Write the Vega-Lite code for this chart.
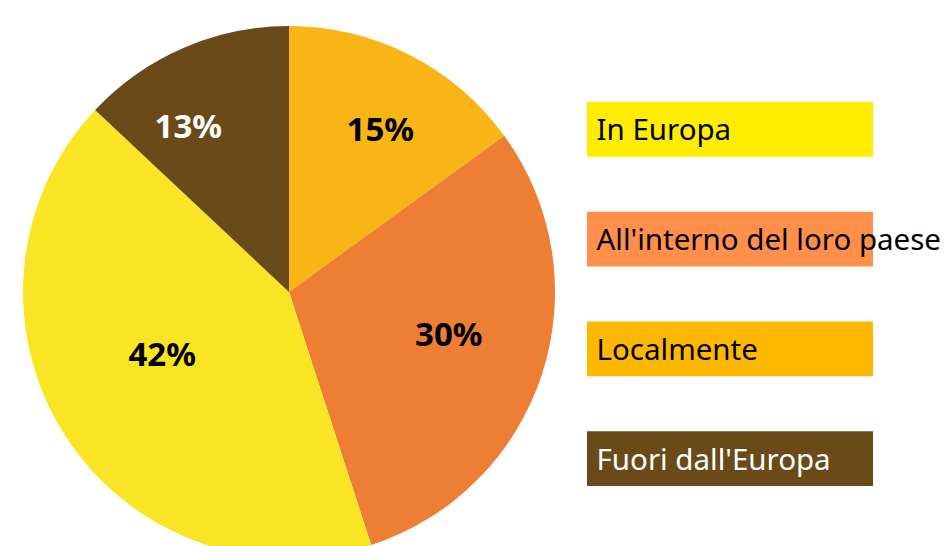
{
  "$schema": "https://vega.github.io/schema/vega-lite/v6.json",
  "padding": 0,
  "spacing": 9,
  "config": {"view": {"stroke": null}, "font": "Noto Sans"},
  "datasets": {
    "quote": [
      {"categoria": "Localmente", "quota": 0.15, "ordine": 1},
      {"categoria": "All'interno del loro paese", "quota": 0.30, "ordine": 2},
      {"categoria": "In Europa", "quota": 0.42, "ordine": 3},
      {"categoria": "Fuori dall'Europa", "quota": 0.13, "ordine": 4}
    ]
  },
  "resolve": {"scale": {"color": "independent"}},
  "hconcat": [
    {
      "width": 578,
      "height": 584,
      "data": {"name": "quote"},
      "encoding": {
        "theta": {"field": "quota", "type": "quantitative", "stack": true},
        "order": {"field": "ordine", "type": "quantitative"},
        "color": {
          "field": "categoria",
          "type": "nominal",
          "scale": {
            "domain": ["Localmente", "All'interno del loro paese", "In Europa", "Fuori dall'Europa"],
            "range": ["#F9B516", "#EE7E33", "#F9E526", "#6B4A1A"]
          },
          "legend": null
        }
      },
      "layer": [
        {"mark": {"type": "arc", "outerRadius": 266}},
        {
          "mark": {"type": "text", "radius": 188, "fontSize": 33, "fontWeight": "bold", "dx": 6, "dy": 7},
          "encoding": {
            "text": {"field": "quota", "type": "quantitative", "format": ".0%"},
            "color": {"value": "black"},
            "opacity": {"condition": {"test": "datum.categoria === \"Localmente\"", "value": 1}, "value": 0}
          }
        },
        {
          "mark": {"type": "text", "radius": 188, "fontSize": 33, "fontWeight": "bold", "dx": -26, "dy": 9},
          "encoding": {
            "text": {"field": "quota", "type": "quantitative", "format": ".0%"},
            "color": {"value": "white"},
            "opacity": {"condition": {"test": "datum.categoria === \"Fuori dall'Europa\"", "value": 1}, "value": 0}
          }
        },
        {
          "mark": {"type": "text", "radius": 166, "fontSize": 33, "fontWeight": "bold", "dx": 2, "dy": -7},
          "encoding": {
            "text": {"field": "quota", "type": "quantitative", "format": ".0%"},
            "color": {"value": "black"},
            "opacity": {"condition": {"test": "datum.categoria === \"All'interno del loro paese\"", "value": 1}, "value": 0}
          }
        },
        {
          "mark": {"type": "text", "radius": 143, "fontSize": 33, "fontWeight": "bold", "dx": -6, "dy": -13},
          "encoding": {
            "text": {"field": "quota", "type": "quantitative", "format": ".0%"},
            "color": {"value": "black"},
            "opacity": {"condition": {"test": "datum.categoria === \"In Europa\"", "value": 1}, "value": 0}
          }
        }
      ]
    },
    {
      "width": 286,
      "height": 588,
      "data": {"name": "quote"},
      "mark": {"type": "rect"},
      "encoding": {
        "y": {
          "field": "categoria",
          "type": "nominal",
          "sort": ["In Europa", "All'interno del loro paese", "Localmente", "Fuori dall'Europa"],
          "scale": {"paddingInner": 0.5, "paddingOuter": 0.93},
          "axis": {
            "title": null,
            "domain": false,
            "ticks": false,
            "labelAlign": "left",
            "labelPadding": -9,
            "labelFontSize": 29.5,
            "labelFont": "Noto Sans",
            "labelLimit": 0,
            "labelOverlap": false,
            "labelBaseline": "middle",
            "labelOffset": 2,
            "minExtent": 0,
            "zindex": 1,
            "labelColor": {
              "condition": {"test": "datum.value === \"Fuori dall'Europa\"", "value": "white"},
              "value": "black"
            }
          }
        },
        "color": {
          "field": "categoria",
          "type": "nominal",
          "scale": {
            "domain": ["In Europa", "All'interno del loro paese", "Localmente", "Fuori dall'Europa"],
            "range": ["#FFED00", "#FF8F4A", "#FFB800", "#6B4A1A"]
          },
          "legend": null
        }
      }
    }
  ]
}
